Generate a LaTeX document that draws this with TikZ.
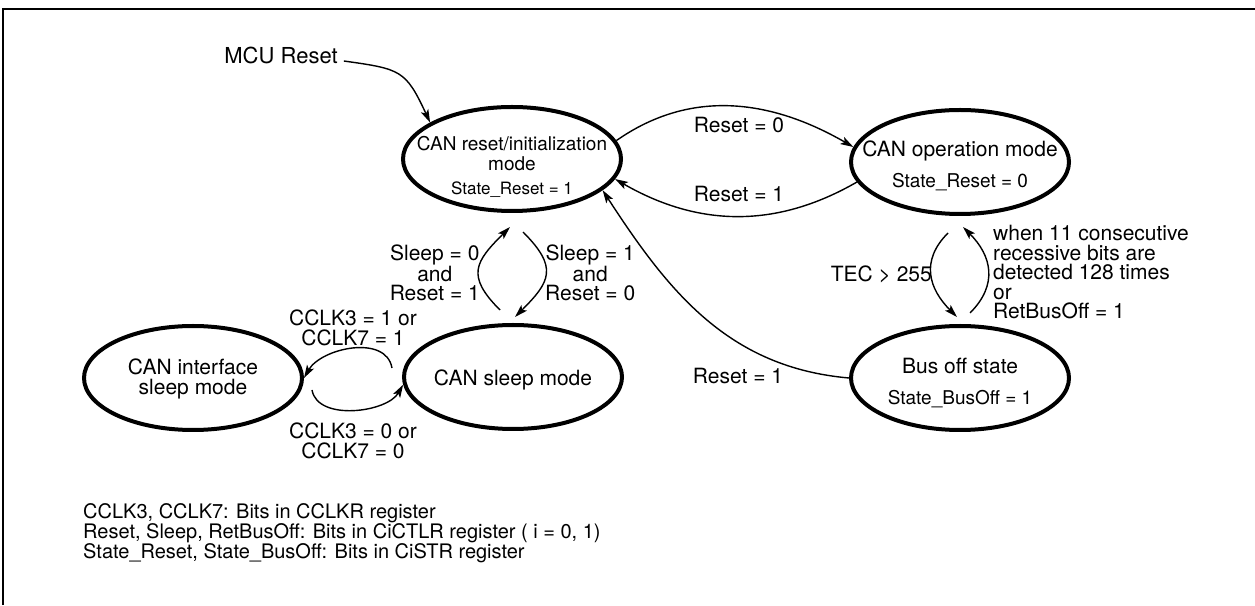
\documentclass[tikz,border=0pt]{standalone}
\usepackage{fontspec}
\setmainfont{TeX Gyre Heros}
\usetikzlibrary{shapes.geometric,arrows.meta,calc}
\tikzset{
  st/.style={ellipse, draw, line width=4pt, minimum width=218pt, minimum height=104pt, inner sep=0pt},
  arr/.style={line width=1.4pt, -{Stealth[length=13pt,width=8pt,inset=3pt]}},
  big/.style={font=\fontsize{21}{21}\selectfont, inner sep=0pt, anchor=mid},
  sm/.style={font=\fontsize{19}{19}\selectfont, inner sep=0pt, anchor=mid},
  lab/.style={font=\fontsize{21}{19.5}\selectfont, inner sep=0pt, align=center},
}
\begin{document}
\begin{tikzpicture}[x=1pt,y=1pt]
\useasboundingbox (0,0) rectangle (1255,605);
\draw[line width=2pt] (3,0) -- (3,596) -- (1256,596);

% states
\node[st] (R) at (512,446) {};
\node[st] (O) at (960,443) {};
\node[st] (B) at (960,227) {};
\node[st] (S) at (513,228) {};
\node[st] (I) at (193,227) {};

% state texts
\node[sm] (R1) at (512,457) {CAN reset/initialization};
\node[sm] (R2) at (512,437) {mode};
\node[sm, font=\fontsize{17}{17}\selectfont] (R3) at (512,413) {State\_Reset = 1};
\node[big] (O1) at (960,451) {CAN operation mode};
\node[sm] (O2) at (960,420) {State\_Reset = 0};
\node[big] (B1) at (960,234) {Bus off state};
\node[sm] (B2) at (960,203) {State\_BusOff = 1};
\node[big] (S1) at (513,222.5) {CAN sleep mode};
\node[big] (I1) at (193,233.5) {CAN interface};
\node[big] (I2) at (193,213.5) {sleep mode};

% MCU reset
\node[big, font=\fontsize{22}{22}\selectfont, inner xsep=6pt] (mcu) at (281,544) {MCU Reset};
\draw[arr] (mcu.mid east) to[out=-8,in=115,looseness=1.4] (R.156);

% reset <-> operation
\draw[arr] (R.10) to[out=35,in=150] (O.172);
\draw[arr] (O.-169) to[out=210,in=-30] (R.-11);
\node[big] (l1) at (739,475) {Reset = 0};
\node[big] (l2) at (739,406) {Reset = 1};

% bus off -> reset
\draw[arr] (B.west) to[out=175,in=-57] (R.-19);
\node[big] (l3) at (738,224) {Reset = 1};

% reset <-> sleep
\coordinate (rs1) at ($(S.north)+(-13,13)$);
\coordinate (rs2) at ($(R.south)+(-2,-14)$);
\coordinate (rs3) at ($(R.south)+(11,-19)$);
\coordinate (rs4) at ($(S.north)+(2,6)$);
\draw[arr] (rs1) to[out=135,in=-135,looseness=1.5] (rs2);
\draw[arr] (rs3) to[out=-45,in=45,looseness=1.5] (rs4);
\node[lab, anchor=east] (l4) at (480,332) {Sleep = 0\\and\\Reset = 1};
\node[lab, anchor=west] (l5) at (545,332) {Sleep = 1\\and\\Reset = 0};

% operation <-> bus off
\coordinate (ob1) at ($(O.south)+(-12,-17)$);
\coordinate (ob2) at ($(B.north)+(-3,7)$);
\coordinate (ob3) at ($(B.north)+(10,11)$);
\coordinate (ob4) at ($(O.south)+(3,-11)$);
\draw[arr] (ob1) to[out=-135,in=135,looseness=1.2] (ob2);
\draw[arr] (ob3) to[out=45,in=-45,looseness=1.2] (ob4);
\node[big, anchor=mid east] (l6) at (932,326) {TEC > 255};
\node[lab, align=left, anchor=north west] (l7) at (993,380) {when 11 consecutive\\recessive bits are\\detected 128 times\\or\\RetBusOff = 1};

% sleep <-> interface sleep
\coordinate (si1) at ($(S.west)+(-10,9)$);
\coordinate (si2) at ($(I.east)+(8,-12)$);
\draw[arr] (si1) to[out=100,in=60] (I.east);
\draw[arr] (si2) to[out=-80,in=-120,looseness=0.9] (S.184);
\node[lab] (l8) at (353,277) {CCLK3 = 1 or\\CCLK7 = 1};
\node[lab] (l9) at (353,164) {CCLK3 = 0 or\\CCLK7 = 0};

% legend
\node[lab, align=left, anchor=north west, font=\fontsize{20}{19}\selectfont] (leg) at (83,102)
  {CCLK3, CCLK7: Bits in CCLKR register\\Reset, Sleep, RetBusOff: Bits in CiCTLR register ( i = 0, 1)\\State\_Reset, State\_BusOff: Bits in CiSTR register};
\end{tikzpicture}
\end{document}
